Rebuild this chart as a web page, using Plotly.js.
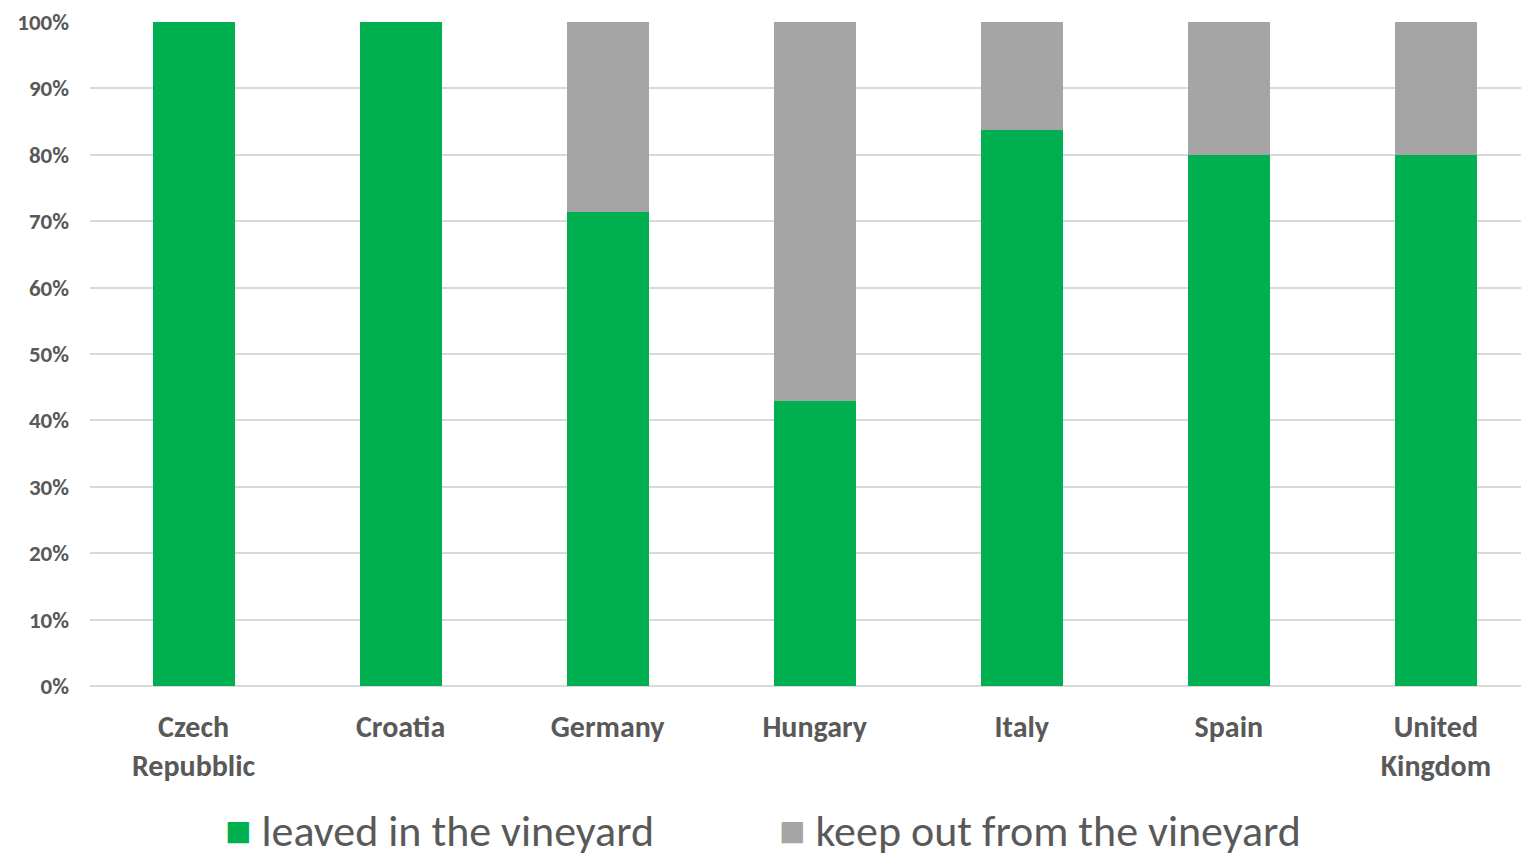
<!DOCTYPE html>
<html>
<head>
<meta charset="utf-8">
<script src="https://cdn.plot.ly/plotly-3.0.1.min.js"></script>
<style>html,body{margin:0;padding:0;background:#fff;}#chart{width:1521px;height:863px;}</style>
</head>
<body>
<div id="chart"></div>
<script>
const categories = ["Czech<br>Repubblic", "Croatia", "Germany", "Hungary", "Italy", "Spain", "United<br>Kingdom"];
const leavedValues = [1.0, 1.0, 0.714, 0.429, 0.838, 0.80, 0.80];
const keepOutValues = [0.0, 0.0, 0.286, 0.571, 0.162, 0.20, 0.20];
const seriesNames = ["leaved in the vineyard", "keep out from the vineyard"];
const yTickValues = [0, 0.1, 0.2, 0.3, 0.4, 0.5, 0.6, 0.7, 0.8, 0.9, 1.0];

const green = "#00b050", gray = "#a5a5a5", textCol = "#595959";
const fontFam = "Carlito, Lato, 'Open Sans', sans-serif";

const traces = [
  {type: "bar", name: seriesNames[0], x: categories, y: leavedValues, marker: {color: green}, hoverinfo: "x+y"},
  {type: "bar", name: seriesNames[1], x: categories, y: keepOutValues, marker: {color: gray}, hoverinfo: "x+y"}
];

const layout = {
  width: 1521, height: 863,
  margin: {l: 90, r: 0, t: 22, b: 177},
  barmode: "stack",
  bargap: 0.604,
  showlegend: false,
  paper_bgcolor: "#fff", plot_bgcolor: "#fff",
  font: {family: fontFam, color: textCol},
  xaxis: {
    type: "category",
    range: [-0.5, 6.411],
    showgrid: false, zeroline: false, showline: false,
    ticks: "", ticklabelstandoff: 20,
    tickfont: {family: fontFam, size: 30, color: textCol, weight: "bold"}
  },
  yaxis: {
    range: [0, 1],
    tickvals: yTickValues,
    tickformat: ".0%",
    showgrid: true, gridcolor: "#d9d9d9", gridwidth: 2,
    zeroline: true, zerolinecolor: "#d9d9d9", zerolinewidth: 2,
    showline: false, ticks: "", ticklabelstandoff: 20,
    tickfont: {family: fontFam, size: 23, color: textCol, weight: "bold"}
  },
  annotations: [
    {xref: "paper", yref: "paper", x: 0.093, y: -0.218, xanchor: "left", yanchor: "middle", showarrow: false,
     text: '<span style="color:' + green + '">■</span> ' + seriesNames[0],
     font: {family: fontFam, size: 44, color: textCol}},
    {xref: "paper", yref: "paper", x: 0.480, y: -0.218, xanchor: "left", yanchor: "middle", showarrow: false,
     text: '<span style="color:' + gray + '">■</span> ' + seriesNames[1],
     font: {family: fontFam, size: 44, color: textCol}}
  ]
};

Plotly.newPlot("chart", traces, layout, {displayModeBar: false, staticPlot: true});
</script>
</body>
</html>
